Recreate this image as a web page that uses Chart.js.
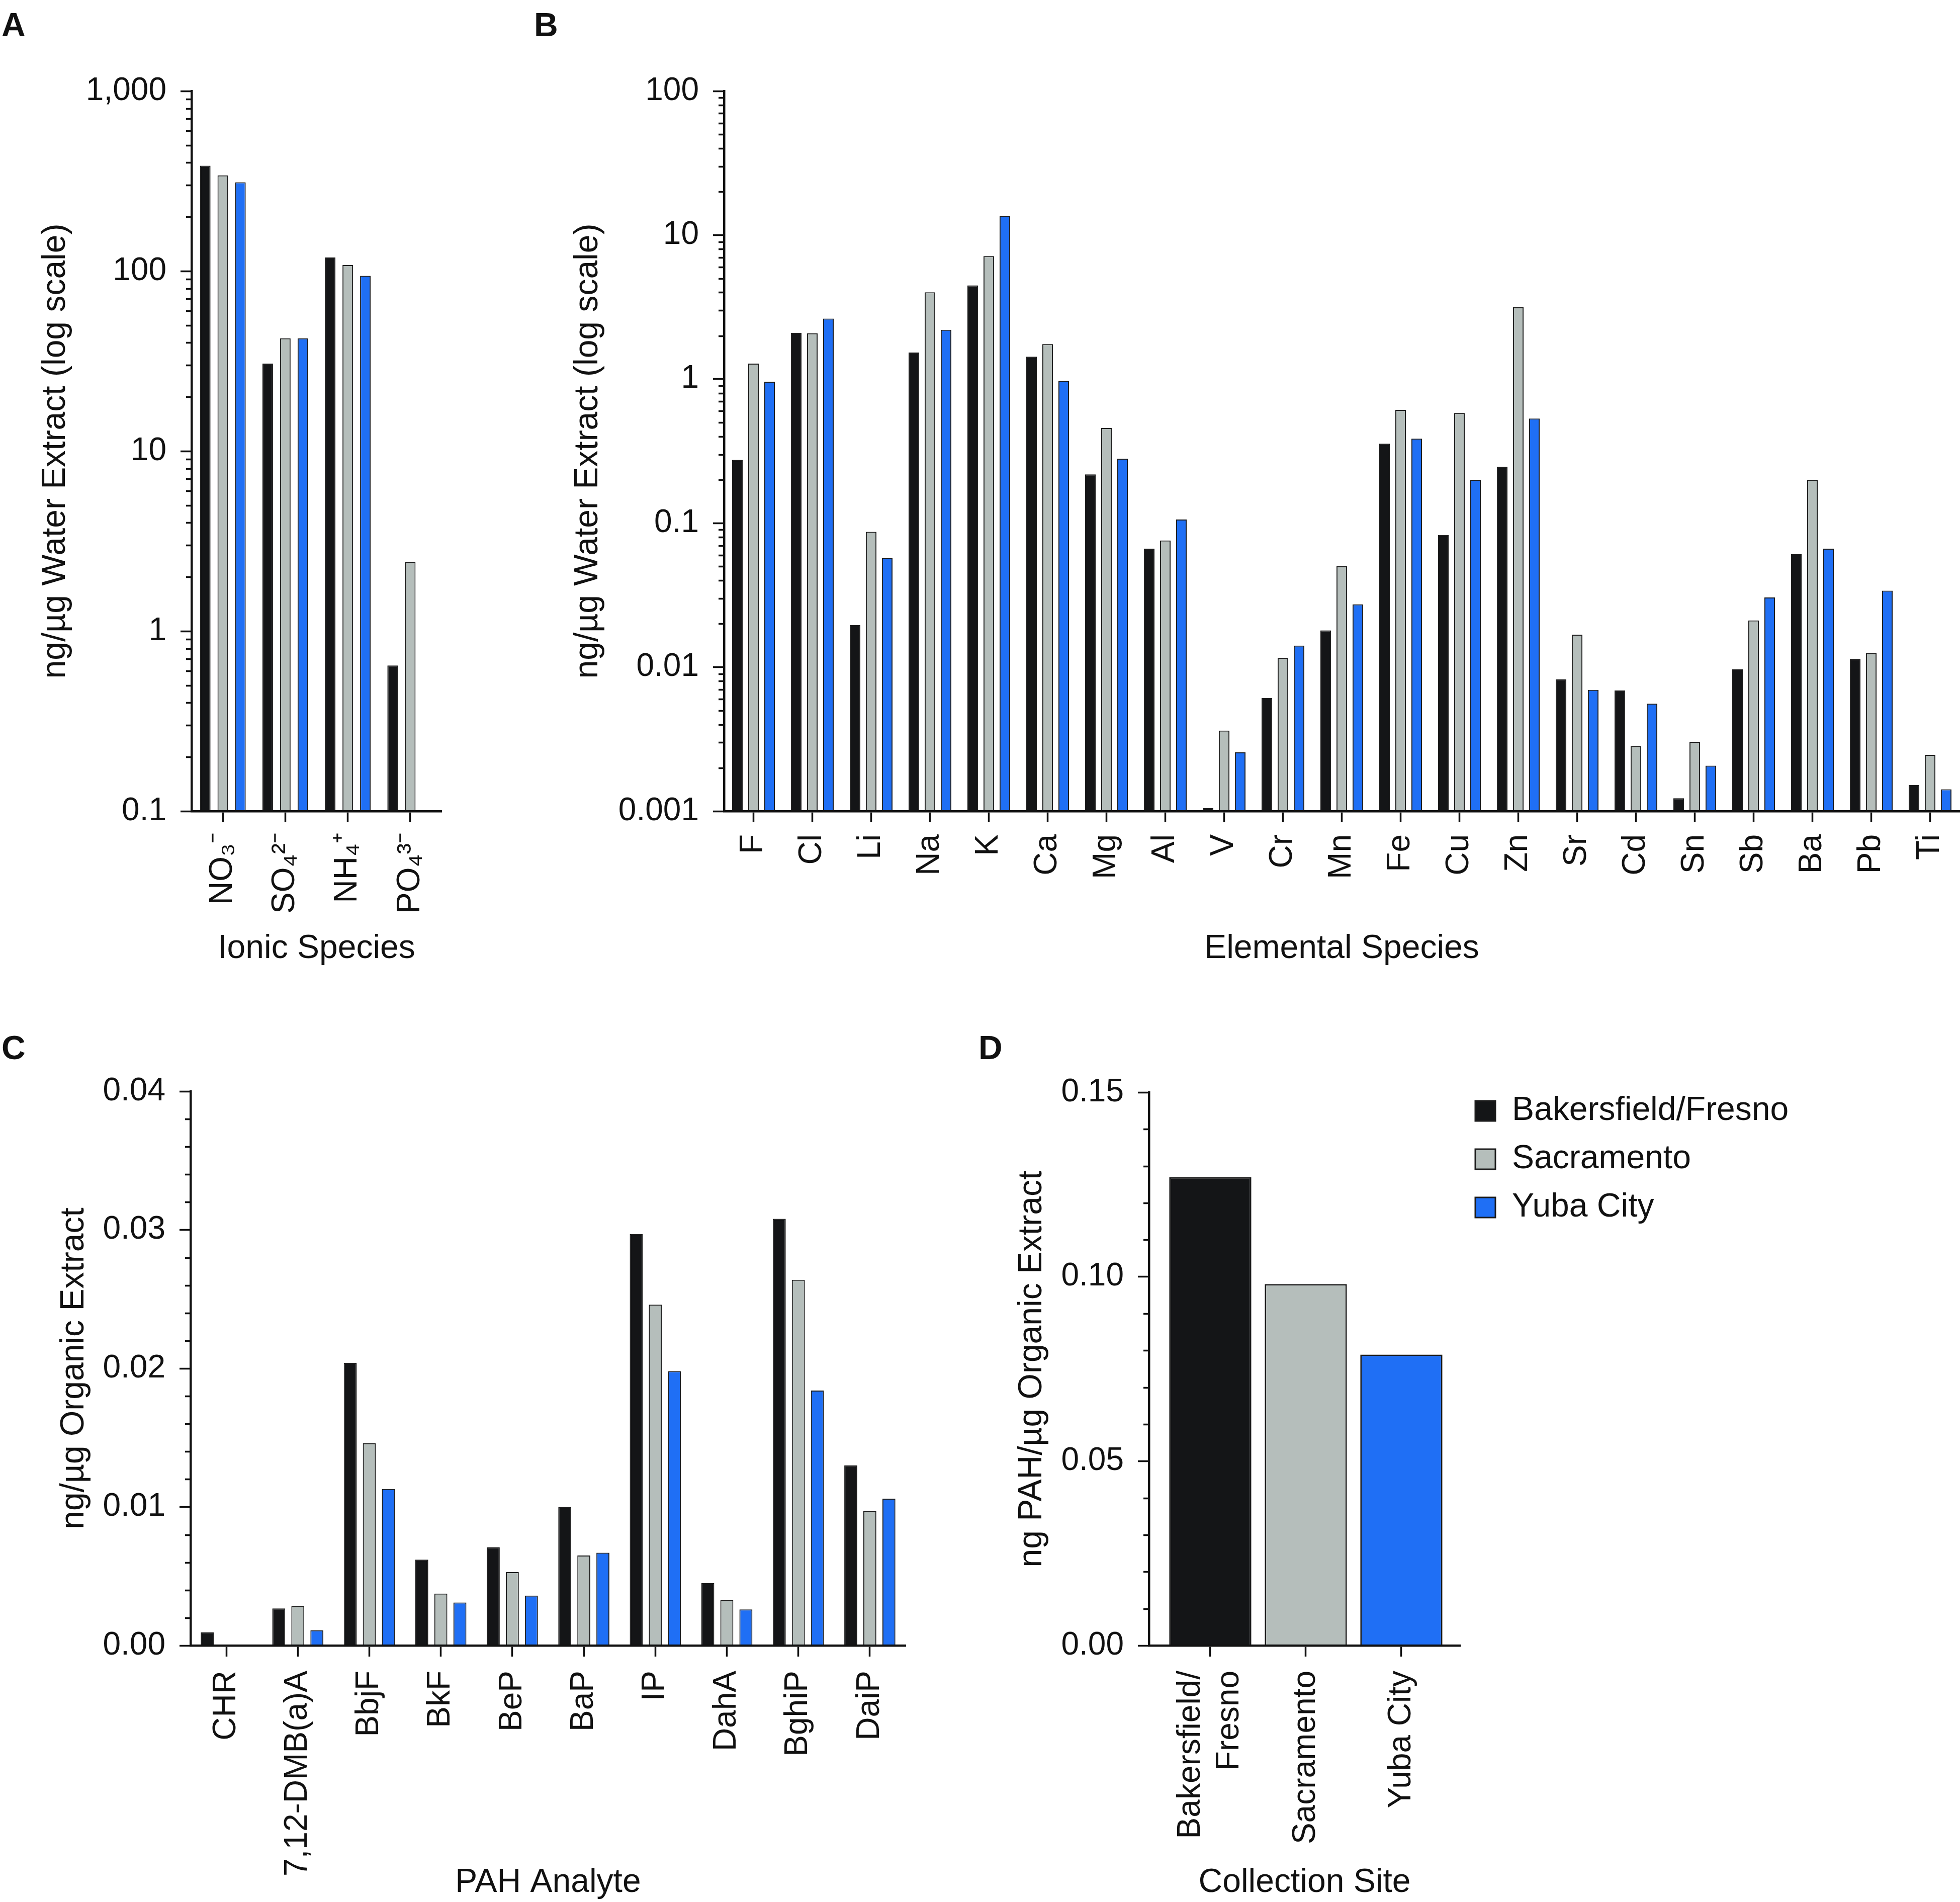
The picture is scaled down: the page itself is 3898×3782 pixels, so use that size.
<!DOCTYPE html>
<html>
<head>
<meta charset="utf-8">
<script src="https://cdn.jsdelivr.net/npm/chart.js@4.4.1/dist/chart.umd.min.js"></script>
<style>
  body { margin: 0; background: #fff; }
  #page { position: relative; width: 3898px; height: 3782px; overflow: hidden; background: #fff; }
  canvas { position: absolute; }
  .tag { position: absolute; font: bold 66px/66px 'Liberation Sans', Arial, sans-serif; color: #111; }
</style>
</head>
<body>
<div id="page">
  <div class="tag" style="left:3px;top:16px">A</div>
  <div class="tag" style="left:1062px;top:16px">B</div>
  <div class="tag" style="left:3px;top:2050px">C</div>
  <div class="tag" style="left:1946px;top:2050px">D</div>
  <canvas id="ionic" width="900" height="1960" style="left:0px;top:0px;width:900px;height:1960px"></canvas>
  <canvas id="elemental" width="2898" height="1960" style="left:1000px;top:0px;width:2898px;height:1960px"></canvas>
  <canvas id="pah" width="1850" height="1782" style="left:0px;top:2000px;width:1850px;height:1782px"></canvas>
  <canvas id="total" width="1998" height="1782" style="left:1900px;top:2000px;width:1998px;height:1782px"></canvas>
</div>
<script>
// ---- data ----
const sites = ['Bakersfield/Fresno', 'Sacramento', 'Yuba City'];

// A: ionic species (ng/µg water extract)
const ionicSpecies = ['NO₃⁻', 'SO₄²⁻', 'NH₄⁺', 'PO₄³⁻'];
const ionicBakersfield = [385, 30.6, 119, 0.645];
const ionicSacramento = [340, 42.3, 108, 2.43];
const ionicYubaCity = [311, 42.3, 94, null];

// B: elemental species (ng/µg water extract)
const elements = ['F', 'Cl', 'Li', 'Na', 'K', 'Ca', 'Mg', 'Al', 'V', 'Cr', 'Mn',
  'Fe', 'Cu', 'Zn', 'Sr', 'Cd', 'Sn', 'Sb', 'Ba', 'Pb', 'Ti'];
const elemBakersfield = [0.275, 2.09, 0.0196, 1.53, 4.47, 1.43, 0.218, 0.0665, 0.00105, 0.0061, 0.018,
  0.356, 0.0828, 0.246, 0.00824, 0.00689, 0.00123, 0.00966, 0.0608, 0.0114, 0.00152];
const elemSacramento = [1.28, 2.08, 0.087, 4.0, 7.15, 1.75, 0.458, 0.0757, 0.00363, 0.0116, 0.0502,
  0.611, 0.582, 3.15, 0.0168, 0.00283, 0.00303, 0.0211, 0.1995, 0.0125, 0.00246];
const elemYubaCity = [0.96, 2.63, 0.057, 2.2, 13.6, 0.97, 0.28, 0.106, 0.00256, 0.0141, 0.0273,
  0.386, 0.1995, 0.532, 0.00695, 0.00558, 0.00207, 0.0305, 0.0665, 0.034, 0.00142];

// C: PAH analytes (ng/µg organic extract)
const pahAnalytes = ['CHR', '7,12-DMB(a)A', 'BbjF', 'BkF', 'BeP', 'BaP', 'IP', 'DahA', 'BghiP', 'DaiP'];
const pahBakersfield = [0.00095, 0.00268, 0.0204, 0.0062, 0.0071, 0.0100, 0.0297, 0.0045, 0.0308, 0.0130];
const pahSacramento = [null, 0.00285, 0.0146, 0.00375, 0.0053, 0.0065, 0.0246, 0.0033, 0.0264, 0.0097];
const pahYubaCity = [null, 0.0011, 0.0113, 0.0031, 0.0036, 0.0067, 0.0198, 0.0026, 0.0184, 0.0106];

// D: total PAH per site (ng PAH/µg organic extract)
const siteTickLabels = [['Bakersfield/', 'Fresno'], 'Sacramento', 'Yuba City'];
const totalPah = [0.127, 0.098, 0.0789];

// tick labels
const ionicTicks = [0.1, 1, 10, 100, 1000];
const ionicTickLabels = ['0.1', '1', '10', '100', '1,000'];
const elemTicks = [0.001, 0.01, 0.1, 1, 10, 100];
const elemTickLabels = ['0.001', '0.01', '0.1', '1', '10', '100'];
const pahTicks = [0, 0.01, 0.02, 0.03, 0.04];
const pahTickLabels = ['0.00', '0.01', '0.02', '0.03', '0.04'];
const totalTicks = [0, 0.05, 0.10, 0.15];
const totalTickLabels = ['0.00', '0.05', '0.10', '0.15'];

// ---- style ----
const INK = '#111111';
const EDGE = '#1c1c1c';
const siteColors = ['#141517', '#b5bebb', '#1f6ff5'];
const TITLE_FONT = { size: 66, lineHeight: 1 };

Chart.defaults.font.family = "'Liberation Sans', Arial, Helvetica, sans-serif";
Chart.defaults.font.size = 64;
Chart.defaults.color = INK;

// Chart.js has only one tick length, so the short in-between ticks are drawn here
const minorTicks = {
  id: 'minorTicks',
  afterDraw(chart, args, opts) {
    const scale = chart.scales.y;
    const ctx = chart.ctx;
    const x = chart.chartArea.left;
    ctx.save();
    ctx.strokeStyle = INK;
    ctx.lineWidth = opts.width;
    opts.values.forEach(v => {
      const y = Math.round(scale.getPixelForValue(v)) + 0.5;
      ctx.beginPath();
      ctx.moveTo(x, y);
      ctx.lineTo(x - opts.length, y);
      ctx.stroke();
    });
    ctx.restore();
  }
};

// rotated two-line labels: centre the block of lines on the tick instead of the first line
const centerMultiline = {
  id: 'centerMultiline',
  beforeDraw(chart) {
    const scale = chart.scales.x;
    scale.getLabelItems(chart.chartArea).forEach(item => {
      if (Array.isArray(item.label)) {
        item.options.translation[0] -= (item.label.length - 1) * item.font.lineHeight / 2;
      }
    });
  }
};

function logMinors(majors) {
  const out = [];
  for (let i = 0; i < majors.length - 1; i++)
    for (let k = 2; k <= 9; k++) out.push(k * majors[i]);
  return out;
}
function linearMinors(majors, parts) {
  const out = [];
  for (let i = 0; i < majors.length - 1; i++) {
    const step = (majors[i + 1] - majors[i]) / parts;
    for (let k = 1; k < parts; k++) out.push(majors[i] + k * step);
  }
  return out;
}

function groupedSets(series, catPct, barPct) {
  return series.map((data, i) => ({
    label: sites[i],
    data: data,
    backgroundColor: siteColors[i],
    borderColor: EDGE,
    borderWidth: 2,
    categoryPercentage: catPct,
    barPercentage: barPct
  }));
}

function valueAxis(c) {
  return {
    type: c.type, min: c.min, max: c.max,
    afterBuildTicks: s => { s.ticks = c.ticks.map(v => ({ value: v })); },
    afterFit: s => { s.width = c.width; if (c.padTop) s.paddingTop = c.padTop; },
    border: { display: true, color: INK, width: 4.5, z: 1 },
    grid: { drawOnChartArea: false, tickLength: 22, tickWidth: 3.5, tickColor: INK },
    ticks: { padding: 28, autoSkip: false, callback: (v, i) => c.labels[i] },
    title: { display: true, text: c.title, font: TITLE_FONT, padding: { top: c.titleX - 33, bottom: 0 } }
  };
}

function siteAxis(c) {
  const axis = {
    type: c.type || 'category',
    offset: !c.type,
    afterFit: s => { s.height = c.height; s.paddingLeft = 0; s.paddingRight = 0; },
    border: { display: true, color: INK, width: 4.5, z: 1 },
    grid: { offset: false, drawOnChartArea: false, tickLength: 22, tickWidth: 3.5, tickColor: INK },
    ticks: { padding: c.tickPad, autoSkip: false, minRotation: 90, maxRotation: 90 },
    title: { display: true, text: c.title, font: TITLE_FONT, padding: { top: 0, bottom: c.canvasH - c.titleY - 33 } }
  };
  if (c.type === 'linear') {
    axis.min = c.min;
    axis.max = c.max;
    axis.afterBuildTicks = s => { s.ticks = c.ticks.map(v => ({ value: v })); };
    axis.ticks.callback = (v, i) => c.labels[i];
  }
  return axis;
}

function panel(id, c) {
  return new Chart(document.getElementById(id), {
    type: 'bar',
    data: c.data,
    options: {
      responsive: false,
      animation: false,
      devicePixelRatio: 1,
      layout: { padding: c.padding },
      plugins: {
        legend: c.legend || { display: false },
        tooltip: { enabled: false },
        minorTicks: { values: c.minors, length: 11, width: 3.5 }
      },
      scales: { x: c.x, y: c.y }
    },
    plugins: [minorTicks, centerMultiline]
  });
}

// A
panel('ionic', {
  data: { labels: ionicSpecies, datasets: groupedSets([ionicBakersfield, ionicSacramento, ionicYubaCity], 0.845, 0.6) },
  padding: { top: 181, right: 22, bottom: 0, left: 0 },
  minors: logMinors(ionicTicks),
  y: valueAxis({ type: 'logarithmic', min: 0.1, max: 1000, ticks: ionicTicks, labels: ionicTickLabels,
    width: 381, title: 'ng/µg Water Extract (log scale)', titleX: 111 }),
  x: siteAxis({ height: 347, tickPad: 20, title: 'Ionic Species', titleY: 1887, canvasH: 1960 })
});

// B
panel('elemental', {
  data: { labels: elements, datasets: groupedSets([elemBakersfield, elemSacramento, elemYubaCity], 0.82, 0.66) },
  padding: { top: 181, right: 1, bottom: 0, left: 0 },
  minors: logMinors(elemTicks),
  y: valueAxis({ type: 'logarithmic', min: 0.001, max: 100, ticks: elemTicks, labels: elemTickLabels,
    width: 440, title: 'ng/µg Water Extract (log scale)', titleX: 170 }),
  x: siteAxis({ height: 347, tickPad: 24, title: 'Elemental Species', titleY: 1887, canvasH: 1960 })
});

// C
panel('pah', {
  data: { labels: pahAnalytes, datasets: groupedSets([pahBakersfield, pahSacramento, pahYubaCity], 0.8, 0.68) },
  padding: { top: 170, right: 49, bottom: 0, left: 0 },
  minors: linearMinors(pahTicks, 5),
  y: valueAxis({ type: 'linear', min: 0, max: 0.04, ticks: pahTicks, labels: pahTickLabels,
    width: 379, title: 'ng/µg Organic Extract', titleX: 148 }),
  x: siteAxis({ height: 510, tickPad: 28, title: 'PAH Analyte', titleY: 1744, canvasH: 1782 })
});

// D
const totalChart = panel('total', {
  data: {
    datasets: sites.map((s, i) => ({
      label: s,
      data: [{ x: i, y: totalPah[i] }],
      backgroundColor: siteColors[i],
      borderColor: EDGE,
      borderWidth: 3,
      grouped: false,
      categoryPercentage: 1,
      barPercentage: 0.86
    }))
  },
  padding: { top: 146, right: 0, bottom: 0, left: 0 },
  minors: linearMinors(totalTicks, 5),
  legend: {
    display: true, position: 'right', align: 'start', maxWidth: 1200,
    labels: { boxWidth: 40, boxHeight: 40, padding: 30, color: INK, font: { size: 66 } }
  },
  y: valueAxis({ type: 'linear', min: 0, max: 0.15, ticks: totalTicks, labels: totalTickLabels,
    width: 385, padTop: 172, title: 'ng PAH/µg Organic Extract', titleX: 153 }),
  x: siteAxis({ type: 'linear', min: -0.642, max: 2.616, ticks: [0, 1, 2], labels: siteTickLabels,
    height: 510, tickPad: 28, title: 'Collection Site', titleY: 1744, canvasH: 1782 })
});
// plot area of D ends at x = 1004 inside its canvas; the legend takes the rest
totalChart.options.layout.padding.right = Math.max(0, totalChart.chartArea.right - 1004);
totalChart.update();
</script>
</body>
</html>
